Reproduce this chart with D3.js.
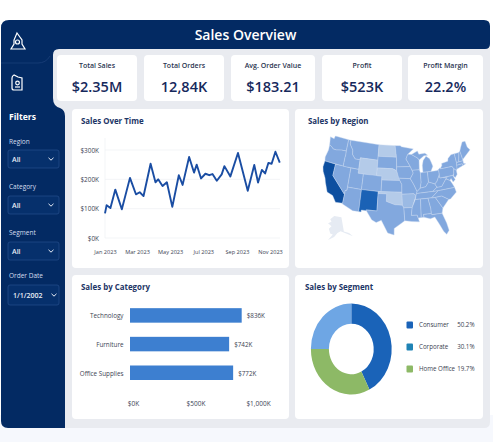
<!DOCTYPE html>
<html><head><meta charset="utf-8">
<script src="https://cdn.jsdelivr.net/npm/d3@7"></script>
<style>html,body{margin:0;padding:0;background:#fff}svg{display:block;font-family:"Open Sans",sans-serif}</style>
</head><body><svg id="c" width="493" height="442"></svg>
<script>
const kpiLabels=["Total Sales","Total Orders","Avg. Order Value","Profit","Profit Margin"];
const kpiValues=["$2.35M","12,84K","$183.21","$523K","22.2%"];
const filterLabels=["Region","Category","Segment","Order Date"];
const filterValues=["All","All","All","1/1/2002"];
const lineDates=["2023-01-01","2023-01-04","2023-01-11","2023-01-20","2023-02-01","2023-02-16","2023-02-27","2023-03-06","2023-03-13","2023-03-26","2023-04-04","2023-04-09","2023-04-17","2023-04-25","2023-05-05","2023-05-17","2023-05-24","2023-06-05","2023-06-14","2023-06-19","2023-06-27","2023-07-05","2023-07-12","2023-07-18","2023-07-26","2023-08-04","2023-08-09","2023-08-20","2023-09-03","2023-09-21","2023-10-03","2023-10-10","2023-10-17","2023-10-23","2023-10-29","2023-11-04","2023-11-11","2023-11-19"];
const lineSales=[84,112,102,165,98,205,149,156,143,253,190,200,177,190,106,214,181,276,223,250,203,219,214,218,195,217,245,210,290,161,249,189,232,220,256,253,294,257];
const lineTicks=["2023-01-01","2023-03-01","2023-05-01","2023-07-01","2023-09-01","2023-11-01"];
const lineYTicks=[0,100,200,300];
const categories=["Technology","Furniture","Office Supplies"];
const categorySales=[836,742,772];
const categoryTicks=[0,500,1000];
const segments=["Consumer","Corporate","Home Office"];
const segmentPct=[50.2,30.1,19.7];
const donutSlices=[42.6,32.4,25];
const donutColors=["#1a63b8","#8db966","#6ea6e4"];
const legendColors=["#1a63b8","#1f83b5","#8db966"];
const stateLevels={WA:2,OR:2,CA:5,NV:2,ID:2,MT:2,WY:1,UT:2,AZ:2,CO:2,NM:4,ND:1,SD:2,NE:1,KS:2,OK:1,TX:2,MN:2,IA:2,MO:2,AR:1.5,LA:2,WI:2,IL:2,MI:2,IN:2,OH:2,KY:2,TN:2,MS:2,AL:2,GA:2,FL:2,SC:2,NC:2,VA:2,WV:2,MD:2,PA:2,NY:2,NJ:2,CT:2,MA:2,VT:2,NH:2,ME:2};
const stateShapes={
WA:[[[-124.7,48.4],[-123,48.2],[-122.8,49],[-117,49],[-117,46],[-119,45.9],[-121,45.6],[-122.3,45.6],[-123.5,46.2],[-124.1,46.3]]],
OR:[[[-124.1,46.3],[-123.5,46.2],[-122.3,45.6],[-121,45.6],[-119,45.9],[-117,46],[-116.9,45],[-117,44.2],[-117,42],[-124.2,42],[-124.5,43],[-124,45]]],
CA:[[[-124.2,42],[-120,42],[-120,39],[-114.6,35],[-114.7,32.7],[-117.1,32.5],[-118.5,34],[-120.6,34.5],[-122,36.8],[-122.5,37.8],[-123.8,39.3],[-124.3,40.4]]],
NV:[[[-120,42],[-114,42],[-114,36.2],[-114.6,36],[-114.6,35],[-120,39]]],
ID:[[[-117,49],[-116,49],[-116,48],[-114.5,46.6],[-114.3,45.5],[-113,44.5],[-111,44.5],[-111,42],[-117,42],[-117,44.2],[-116.9,45],[-117,46]]],
MT:[[[-116,49],[-104,49],[-104,45],[-111,45],[-111,44.5],[-113,44.5],[-114.3,45.5],[-114.5,46.6],[-116,48]]],
WY:[[[-111,45],[-104,45],[-104,41],[-111,41]]],
UT:[[[-114,42],[-111,42],[-111,41],[-109,41],[-109,37],[-114,37]]],
AZ:[[[-114,37],[-109,37],[-109,31.3],[-111,31.3],[-114.8,32.5],[-114.7,32.7],[-114.6,35],[-114.6,36],[-114,36.2]]],
CO:[[[-109,41],[-102,41],[-102,37],[-109,37]]],
NM:[[[-109,37],[-103,37],[-103,32],[-106.6,32],[-106.5,31.8],[-108.2,31.8],[-108.2,31.3],[-109,31.3]]],
ND:[[[-104,49],[-97.2,49],[-96.6,46],[-104,46]]],
SD:[[[-104,46],[-96.6,46],[-96.5,42.5],[-98,43],[-104,43]]],
NE:[[[-104,43],[-98,43],[-96.5,42.5],[-95.3,40],[-102,40],[-102,41],[-104,41]]],
KS:[[[-102,40],[-95.3,40],[-94.6,39],[-94.6,37],[-102,37]]],
OK:[[[-103,37],[-94.6,37],[-94.5,33.7],[-97,33.8],[-100,34.6],[-100,36.5],[-103,36.5]]],
TX:[[[-103,36.5],[-100,36.5],[-100,34.6],[-97,33.8],[-94.5,33.7],[-94,33],[-93.8,29.7],[-95,29],[-97.2,27.7],[-97.2,26],[-99.2,26.5],[-101.4,29.7],[-103,29],[-104.5,29.6],[-106.5,31.8],[-106.6,32],[-103,32]]],
MN:[[[-97.2,49],[-95,49],[-94.6,48.7],[-89.6,48],[-92,46.7],[-92.8,45.5],[-91.2,43.5],[-96.5,43.5],[-96.6,46]]],
IA:[[[-96.5,43.5],[-91.2,43.5],[-90.2,41.8],[-91.4,40.4],[-95.7,40.6],[-96.5,42.5]]],
MO:[[[-95.7,40.6],[-91.4,40.4],[-90.2,38.8],[-89.2,37],[-89.7,36],[-90.4,36.5],[-94.6,36.5],[-94.6,39],[-95.3,40]]],
AR:[[[-94.6,36.5],[-90.4,36.5],[-89.7,36],[-91.2,33],[-94,33],[-94.5,33.7]]],
LA:[[[-94,33],[-91.2,33],[-91.6,31],[-89.7,31],[-89.4,30.2],[-89.1,29.2],[-91.5,29.4],[-93.8,29.7]]],
WI:[[[-92,46.7],[-90.5,46.6],[-88,45.5],[-87.6,45],[-87.8,42.5],[-90.6,42.5],[-91.2,43.5],[-92.8,45.5]]],
IL:[[[-90.6,42.5],[-87.8,42.5],[-87.5,41.7],[-87.5,39.3],[-88,37.8],[-89.2,37],[-90.2,38.8],[-91.4,40.4],[-90.2,41.8]]],
MI:[[[-86.5,41.76],[-83.5,41.73],[-82.5,43],[-82.9,44],[-83.4,45],[-84.7,45.8],[-86,44.8],[-86.5,43.5]],[[-90.5,46.6],[-88,47.4],[-87.5,46.5],[-85,46.6],[-84,46],[-85.5,46],[-87.6,45],[-88,45.5]]],
IN:[[[-87.5,41.7],[-86.5,41.76],[-84.8,41.7],[-84.8,39.1],[-86,38],[-88,37.8],[-87.5,39.3]]],
OH:[[[-84.8,41.7],[-83.5,41.73],[-81,41.7],[-80.5,42],[-80.5,40.6],[-81.7,39],[-82.6,38.4],[-84.8,39.1]]],
KY:[[[-89.2,37],[-88,37.8],[-86,38],[-84.8,39.1],[-82.6,38.4],[-82,37.5],[-83.7,36.6],[-89.5,36.5]]],
TN:[[[-90,35],[-89.5,36.5],[-83.7,36.6],[-81.7,36.6],[-84.3,35]]],
MS:[[[-91.2,33],[-90,35],[-88.2,35],[-88.4,30.3],[-89.4,30.2],[-89.7,31],[-91.6,31]]],
AL:[[[-88.2,35],[-85.6,35],[-85,32.3],[-85,31],[-87.6,31],[-87.5,30.3],[-88.4,30.3]]],
GA:[[[-85.6,35],[-83.1,35],[-81,32],[-81.5,30.7],[-84.9,30.7],[-85,31],[-85,32.3]]],
FL:[[[-87.6,31],[-85,31],[-84.9,30.7],[-81.5,30.7],[-80.5,28],[-80.1,26],[-81,25.1],[-81.8,26],[-82.8,28],[-84,30],[-85.5,29.7],[-87.5,30.3]]],
SC:[[[-83.1,35],[-80.8,35.1],[-78.6,33.9],[-81,32]]],
NC:[[[-84.3,35],[-81.7,36.6],[-75.9,36.6],[-75.6,35.3],[-78,33.9],[-78.6,33.9],[-80.8,35.1],[-83.1,35]]],
VA:[[[-83.7,36.6],[-82,37.5],[-80.3,37.5],[-78.4,39.2],[-77,38.6],[-76.3,37.5],[-75.9,36.6],[-81.7,36.6]]],
WV:[[[-82.6,38.4],[-81.7,39],[-80.5,40.6],[-80.5,39.7],[-79.5,39.7],[-77.8,39.4],[-78.4,39.2],[-80.3,37.5],[-82,37.5]]],
MD:[[[-79.5,39.7],[-75.7,39.7],[-75.1,38.5],[-76,38],[-76.5,39],[-77,38.6],[-78.4,39.2],[-77.8,39.4]]],
PA:[[[-80.5,42],[-79.8,42.3],[-79.8,42],[-75.3,42],[-74.8,41.3],[-75.2,40],[-75.7,39.7],[-80.5,39.7]]],
NY:[[[-79.8,42],[-79,42.8],[-79,43.3],[-76.5,43.5],[-76.2,44.2],[-74.8,45],[-73.4,45],[-73.3,42.7],[-73.5,41.2],[-74,40.7],[-74.8,41.3],[-75.3,42]]],
NJ:[[[-74.8,41.3],[-74,40.7],[-74,39.7],[-74.9,39],[-75.5,39.5],[-75.2,40]]],
CT:[[[-73.5,42],[-71.3,42],[-71.2,41.5],[-73.6,41]]],
MA:[[[-73.3,42.7],[-70.7,42.7],[-70.8,42],[-70,41.7],[-71.2,41.5],[-71.3,42],[-73.5,42]]],
VT:[[[-73.4,45],[-71.5,45],[-72.4,42.7],[-73.3,42.7]]],
NH:[[[-71.5,45],[-71,45.3],[-70.7,43],[-70.7,42.7],[-72.4,42.7]]],
ME:[[[-71,45.3],[-70.3,46.2],[-69.2,47.4],[-68,47.3],[-67.8,45.7],[-67,44.8],[-70.7,43]]]
};
const alaskaShape=[[-168,65.5],[-162,67],[-165,68.5],[-157,71],[-141,69.7],[-141,60],[-134,58],[-130,55],[-136,57.5],[-146,60.5],[-151,59.5],[-156,57],[-164,54.5],[-158,58.5],[-162,59],[-165,62],[-161,64]];

const svg=d3.select("#c");
const navy="#032a63",bg="#e9ebf0",ink="#1d3566",dark="#16295c";
const txt=(g,x,y,s,o={})=>g.append("text").attr("x",x).attr("y",y).text(s)
  .attr("font-size",o.size||8).attr("fill",o.fill||"#3b4250").attr("font-weight",o.w||400).attr("text-anchor",o.a||"start")
  .attr("font-family",o.f||null);
svg.append("rect").attr("x",0).attr("y",415).attr("width",493).attr("height",27).attr("fill","#f6f8fd");
// frame
svg.append("path").attr("fill",bg).attr("d","M50,45H490V422Q490,428 484,428H50Z");
svg.append("path").attr("fill",navy).attr("d","M1,28Q1,20 9,20H484Q490,20 490,26V44Q490,49 485,49H59Q53,49 53,55V98Q53,106 60,108Q65,110 65,116V428H8Q1,428 1,421Z");
svg.append("path").attr("fill","none").attr("stroke","#1a3f78").attr("stroke-width",.8).attr("d","M1,63H38Q46,63 50,56");
txt(svg,245.5,40,"Sales Overview",{size:14,fill:"#fff",w:600,a:"middle"});
// icons
const ic=svg.append("g").attr("fill","none").attr("stroke","#fff").attr("stroke-width",1.2);
ic.append("path").attr("d","M17,33L22,40V44L25,49H11L14,44V40Z");
ic.append("circle").attr("cx",17.5).attr("cy",42).attr("r",2);
ic.append("path").attr("d","M12,83V78Q12,76 14,75L18,77L22,78V90H14Q12,90 12,88Z");
ic.append("circle").attr("cx",17.5).attr("cy",83).attr("r",1.8);
ic.append("path").attr("d","M15,87H20");
// filters
txt(svg,9,120,"Filters",{size:8.6,fill:"#fff",w:700});
const fy=[143.5,188.5,234.5,277.5],by=[150,196,242,285],bh=[18,18,18,20];
filterLabels.forEach((l,i)=>{
  txt(svg,9,fy[i],l,{size:6.5,fill:"#d5deee"});
  const ty=by[i],g=svg.append("g");
  g.append("rect").attr("x",8).attr("y",ty).attr("width",51).attr("height",bh[i]).attr("rx",2).attr("fill","#06306c").attr("stroke","#254f8d").attr("stroke-width",.7);
  txt(g,i==3?13:12,ty+bh[i]/2+2.5,filterValues[i],{size:7,fill:"#e9eef7",w:600});
  const cx=i==3?54:51,cy=ty+bh[i]/2;
  g.append("path").attr("d",`M${cx-2.5},${cy-1.2}L${cx},${cy+1.2}L${cx+2.5},${cy-1.2}`).attr("fill","none").attr("stroke","#e9eef7").attr("stroke-width",1);
});
// cards
const card=(x,y,w,h)=>svg.append("rect").attr("x",x).attr("y",y).attr("width",w).attr("height",h).attr("rx",4).attr("fill","#fff");
const kx=[57,144,231,322,408],kw=[80,80,84,80,75];
kpiLabels.forEach((l,i)=>{
  card(kx[i],55,kw[i],46);
  txt(svg,kx[i]+kw[i]/2,68,l,{size:7,fill:"#2a3550",w:600,a:"middle"});
  txt(svg,kx[i]+kw[i]/2,92,kpiValues[i],{size:14.5,fill:dark,w:600,a:"middle"});
});
card(72,109,217,159);card(295,109,188,159);card(72,275,217,144);card(295,275,188,144);
const titles=[[81,124,"Sales Over Time"],[308,124,"Sales by Region"],[81,290,"Sales by Category"],[305,290,"Sales by Segment"]];
titles.forEach(t=>txt(svg,t[0],t[1],t[2],{size:7.9,fill:ink,w:700}));
// line chart
const parse=d3.utcParse("%Y-%m-%d");
const xL=d3.scaleUtc().domain([parse("2023-01-01"),parse("2023-11-01")]).range([105,270]);
const yL=d3.scaleLinear().domain([0,300]).range([238,150]);
const gl=svg.append("g");
const yax=gl.append("g").attr("transform","translate(105,0)").call(d3.axisLeft(yL).tickValues(lineYTicks).tickSize(0).tickPadding(6).tickFormat(d=>`$${d}K`));
yax.select(".domain").remove();
yax.selectAll("text").attr("font-size",6.4).attr("fill","#3c4453").attr("font-family","Open Sans");
gl.selectAll(".gr").data(lineYTicks).join("line").attr("x1",105).attr("x2",280).attr("y1",yL).attr("y2",yL).attr("stroke","#eef0f4").attr("stroke-width",.7);
gl.append("line").attr("x1",105).attr("x2",105).attr("y1",138).attr("y2",238).attr("stroke","#eef0f4").attr("stroke-width",.7);
const xax=gl.append("g").attr("transform","translate(0,238)").call(d3.axisBottom(xL).tickValues(lineTicks.map(parse)).tickSize(0).tickPadding(12).tickFormat(d3.utcFormat("%b %Y")));
xax.select(".domain").remove();
xax.selectAll("text").attr("font-size",5.6).attr("fill","#3c4453").attr("font-family","Open Sans");
gl.append("path").datum(lineDates.map((d,i)=>[parse(d),lineSales[i]])).attr("fill","none").attr("stroke","#1a4da3").attr("stroke-width",1.9).attr("stroke-linejoin","round")
  .attr("d",d3.line().x(d=>xL(d[0])).y(d=>yL(d[1])));
// map
const proj=d3.geoConicEqualArea().parallels([29.5,45.5]).rotate([96,0]).center([0,38]).scale(1000).translate([0,0]);
const allPts=Object.values(stateShapes).flat(2).map(p=>proj(p));
const sx=d3.scaleLinear().domain(d3.extent(allPts,p=>p[0])).range([323,470]);
const sy=d3.scaleLinear().domain(d3.extent(allPts,p=>p[1])).range([136,235]);
const lineGen=d3.line().x(p=>sx(proj(p)[0])).y(p=>sy(proj(p)[1]));
const col=d3.scaleLinear().domain([1,2,4,5]).range(["#b4cbe9","#82a8de","#1b62b5","#0d4fa0"]);
const gm=svg.append("g");
Object.keys(stateShapes).forEach(k=>{
  gm.append("path").attr("d",stateShapes[k].map(r=>lineGen(r)+"Z").join("")).attr("fill",col(stateLevels[k])).attr("stroke","#c9d9f0").attr("stroke-width",.4).attr("stroke-linejoin","round");
});
const akp=d3.geoConicEqualArea().parallels([55,65]).rotate([154,0]).center([0,60]).scale(1000).translate([0,0]);
const akPts=alaskaShape.map(p=>akp(p));
const ax=d3.scaleLinear().domain(d3.extent(akPts,p=>p[0])).range([328,353]);
const ay=d3.scaleLinear().domain(d3.extent(akPts,p=>p[1])).range([216,240]);
gm.append("path").attr("d",d3.line().x(p=>ax(akp(p)[0])).y(p=>ay(akp(p)[1]))(alaskaShape)+"Z").attr("fill","#e6ebf3");
// bars
const xB=d3.scaleLinear().domain([0,1000]).range([130,263.6]);
const xTicks=d3.scaleLinear().domain([0,1000]).range([133,258]);
const yB=d3.scaleBand().domain(categories).range([301,387]).paddingInner(.5).paddingOuter(.25);
const gb=svg.append("g");
categories.forEach((c,i)=>{
  gb.append("rect").attr("x",xB(0)).attr("y",yB(c)).attr("width",xB(categorySales[i])-xB(0)).attr("height",14.5).attr("fill","#3d7fd0");
  txt(gb,xB(categorySales[i])+5,yB(c)+10,`$${categorySales[i]}K`,{size:6.3,fill:"#3c4453"});
  txt(gb,123.5,yB(c)+10,c,{size:6.3,fill:"#3c4453",a:"end"});
});
const xa2=gb.append("g").attr("transform","translate(0,398)").call(d3.axisBottom(xTicks).tickValues(categoryTicks).tickSize(0).tickPadding(3).tickFormat(d=>d==0?"$0K":d==500?"$500K":"$1,000K"));
xa2.select(".domain").remove();
xa2.selectAll("text").attr("font-size",6.5).attr("fill","#3c4453").attr("font-family","Open Sans");
// donut
const pie=d3.pie().sort(null).value(d=>d)(donutSlices);
const arc=d3.arc().innerRadius(22.4).outerRadius(40.4);
const gd=svg.append("g").attr("transform","translate(351.3,349) scale(1,1.125)");
gd.selectAll("path").data(pie).join("path").attr("d",arc).attr("fill",(d,i)=>donutColors[i]);
const ly=[325,347,369];
segments.forEach((s,i)=>{
  svg.append("rect").attr("x",406.5).attr("y",ly[i]-3.5).attr("width",6.5).attr("height",7).attr("rx",1).attr("fill",legendColors[i]);
  txt(svg,419,ly[i]+2.2,s,{size:6.2});
  txt(svg,474.5,ly[i]+2.2,segmentPct[i]+"%",{size:6.2,a:"end"});
});
</script></body></html>
